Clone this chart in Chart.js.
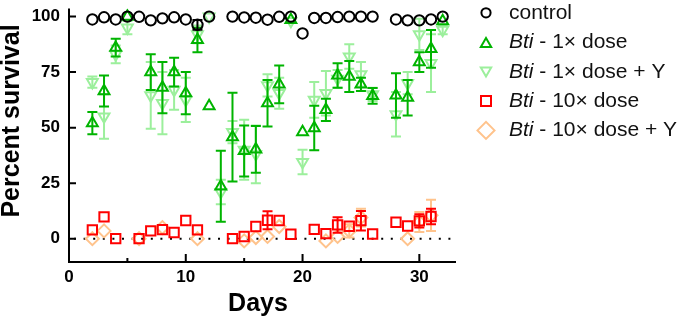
<!DOCTYPE html>
<html>
<head>
<meta charset="utf-8">
<script src="https://cdn.jsdelivr.net/npm/chart.js@4.4.1/dist/chart.umd.min.js"></script>
<style>
  body { margin: 0; background: #fff; }
</style>
</head>
<body>
<canvas id="survival" width="685" height="321"></canvas>
<script>
// percent survival per day, errors are +/- (0 = no bar drawn)
const controlDays = [2, 3, 4, 5, 6, 7, 8, 9, 10, 11, 12, 14, 15, 16, 17, 18, 19, 20, 21, 22, 23, 24, 25, 26, 28, 29, 30, 31, 32]
const controlPct  = [98.7, 99.7, 98.7, 100, 99.9, 98.3, 99.2, 99.7, 98.7, 96.3, 100, 100, 99.6, 99.5, 98.6, 99.9, 100, 92.4, 99.4, 99.4, 99.8, 100, 100, 100, 98.7, 98.3, 98.3, 98.7, 100]
const controlErr  = [0, 0, 0, 0, 0, 0, 0, 0, 0, 2.2, 0, 0, 0, 0, 0, 0, 0, 0, 0, 0, 0, 0, 0, 0, 0, 0, 0, 0, 0]

const oneDays = [2, 3, 4, 5, 7, 8, 9, 10, 11, 12, 13, 14, 15, 16, 17, 18, 19, 20, 21, 22, 23, 24, 25, 26, 28, 29, 30, 31, 32]
const onePct  = [52, 66.5, 86, 100, 75, 68, 75, 65.5, 89.5, 59.7, 23.6, 45.7, 39.5, 40.2, 61, 69.5, 98.5, 48, 49.8, 58, 73.5, 73, 69.5, 64.3, 64.5, 63.5, 79.5, 85.5, 98]
const oneErr  = [5, 7, 4, 0, 8, 11.5, 6.5, 9.5, 5.5, 0, 16, 20, 11.5, 10.5, 10.5, 8.5, 0, 0, 10, 5, 5.5, 7, 3, 3.5, 10, 8, 4.5, 8.5, 0]

const oneYDays = [2, 3, 4, 5, 7, 8, 9, 10, 11, 12, 13, 14, 15, 16, 17, 18, 19, 20, 21, 22, 23, 24, 25, 26, 28, 29, 30, 31, 32]
const oneYPct  = [70.5, 55, 83, 95, 64.5, 61, 67, 62.5, 92, 100, 21, 48, 40, 38, 69, 65.5, 98, 34.5, 62.5, 65.5, 72, 82, 74, 65, 56, 70, 92, 79, 94]
const oneYErr  = [2.5, 10, 4, 3, 15, 14, 9, 10, 4, 0, 5.5, 5, 13.5, 13, 5, 7, 0, 5.5, 8, 10, 4, 5.5, 5.5, 3, 10, 5, 7, 13, 2]

const tenDays = [2, 3, 4, 6, 7, 8, 9, 10, 11, 14, 15, 16, 17, 18, 19, 21, 22, 23, 24, 25, 26, 28, 29, 30, 31]
const tenPct  = [4, 9.8, 0, 0, 3.5, 4.1, 2.8, 8.2, 4, 0, 1, 5.5, 8.3, 8.2, 2, 4.2, 2.3, 6.2, 5.6, 8.1, 2.1, 7.4, 5.7, 8, 10]
const tenErr  = [0, 0, 0, 0, 0, 0, 0, 0, 0, 0, 0, 0, 4, 0, 0, 0, 0, 3.5, 0, 4.4, 0, 0, 0, 3, 3.5]

const tenYDays = [2, 3, 6, 8, 11, 15, 16, 17, 18, 22, 23, 24, 25, 29, 30, 31]
const tenYPct  = [0, 3.5, 0, 5, 0, -1, 0.5, 1, 5.5, -1, 1, 3.5, 9.5, 0, 7.5, 10.5]
const tenYErr  = [0, 0, 0, 0, 0, 0, 0, 0, 0, 0, 0, 3, 4, 0, 4.5, 7]

const yTicks = [0, 25, 50, 75, 100]
const xTicks = [0, 10, 20, 30]
const xMinorTicks = [5, 15, 25]

const legendItems = [
  ['', 'control'],
  ['Bti', ' - 1\u00d7 dose'],
  ['Bti', ' - 1\u00d7 dose + Y'],
  ['Bti', ' - 10\u00d7 dose'],
  ['Bti', ' - 10\u00d7 dose + Y']
]

const FONT = '"Liberation Sans", Arial, Helvetica, sans-serif'

function pts(days, vals) {
  return days.map((d, i) => ({ x: d, y: vals[i] }))
}

function series(label, days, vals, errs, color, style, radius, rotation) {
  return {
    label: label,
    data: pts(days, vals),
    errors: errs,
    borderColor: color,
    backgroundColor: 'rgba(0,0,0,0)',
    pointBorderColor: color,
    pointBackgroundColor: 'rgba(0,0,0,0)',
    pointBorderWidth: 2,
    pointStyle: style,
    pointRadius: radius,
    pointRotation: rotation || 0,
    showLine: false
  }
}

// draw a hollow marker, same shapes as the datasets use
function marker(ctx, style, x, y, r, color) {
  ctx.save()
  ctx.strokeStyle = color
  ctx.lineWidth = 2
  ctx.beginPath()
  if (style === 'circle') {
    ctx.arc(x, y, r, 0, Math.PI * 2)
  } else if (style === 'up' || style === 'down') {
    const s = style === 'up' ? 1 : -1
    const w = r * Math.sin(Math.PI / 3)
    ctx.moveTo(x, y - s * r)
    ctx.lineTo(x + w, y + s * r / 2)
    ctx.lineTo(x - w, y + s * r / 2)
    ctx.closePath()
  } else if (style === 'square') {
    ctx.rect(x - r, y - r, 2 * r, 2 * r)
  } else if (style === 'diamond') {
    ctx.moveTo(x - r, y)
    ctx.lineTo(x, y - r)
    ctx.lineTo(x + r, y)
    ctx.lineTo(x, y + r)
    ctx.closePath()
  }
  ctx.stroke()
  ctx.restore()
}

const errorBars = {
  id: 'errorBars',
  beforeDatasetDraw(chart, args) {
    const ds = chart.data.datasets[args.index]
    if (!ds.errors) return
    const ctx = chart.ctx
    const xs = chart.scales.x, ys = chart.scales.y
    ctx.save()
    ctx.strokeStyle = ds.borderColor
    ctx.lineWidth = 2
    ds.data.forEach((p, i) => {
      const e = ds.errors[i]
      if (!e) return
      const px = xs.getPixelForValue(p.x)
      const top = ys.getPixelForValue(p.y + e)
      const bot = ys.getPixelForValue(p.y - e)
      ctx.beginPath()
      ctx.moveTo(px, top); ctx.lineTo(px, bot)
      ctx.moveTo(px - 5, top); ctx.lineTo(px + 5, top)
      ctx.moveTo(px - 5, bot); ctx.lineTo(px + 5, bot)
      ctx.stroke()
    })
    ctx.restore()
  }
}

const frame = {
  id: 'frame',
  beforeDatasetsDraw(chart) {
    const { ctx, chartArea: a, scales: { y } } = chart
    const y0 = y.getPixelForValue(0)
    ctx.save()
    ctx.strokeStyle = '#000'
    ctx.lineWidth = 2
    ctx.setLineDash([2, 7.6])
    ctx.beginPath()
    ctx.moveTo(a.left + 5, y0)
    ctx.lineTo(a.right, y0)
    ctx.stroke()
    ctx.restore()
  },
  afterDraw(chart) {
    const { ctx, chartArea: a, scales: { x, y } } = chart
    ctx.save()
    ctx.strokeStyle = '#000'
    ctx.lineWidth = 2
    ctx.beginPath()
    ctx.moveTo(a.left, a.top)
    ctx.lineTo(a.left, a.bottom + 1)
    ctx.moveTo(a.left - 1, a.bottom)
    ctx.lineTo(a.right, a.bottom)
    // ticks point into the plot
    yTicks.forEach(v => {
      const py = y.getPixelForValue(v)
      ctx.moveTo(a.left, py); ctx.lineTo(a.left + 7, py)
    })
    xTicks.forEach(v => {
      const px = x.getPixelForValue(v)
      ctx.moveTo(px, a.bottom); ctx.lineTo(px, a.bottom - 8)
    })
    xMinorTicks.forEach(v => {
      const px = x.getPixelForValue(v)
      ctx.moveTo(px, a.bottom); ctx.lineTo(px, a.bottom - 4)
    })
    ctx.stroke()

    // axis titles
    ctx.fillStyle = '#000'
    ctx.font = 'bold 25px ' + FONT
    ctx.textAlign = 'center'
    ctx.textBaseline = 'middle'
    ctx.fillText('Days', 258, 304)
    ctx.save()
    ctx.translate(12, 121)
    ctx.rotate(-Math.PI / 2)
    ctx.fillText('Percent survival', 0, 0)
    ctx.restore()

    // legend
    const rows = [12.8, 42.5, 72, 101, 130.4]
    const sets = chart.data.datasets
    const shapes = [['circle', 4.6], ['up', 6], ['down', 6], ['square', 5], ['diamond', 8.5]]
    ctx.textAlign = 'left'
    rows.forEach((ry, i) => {
      const sh = shapes[i]
      let my = ry
      if (sh[0] === 'up') my = ry + sh[1] / 4
      if (sh[0] === 'down') my = ry - sh[1] / 4
      marker(ctx, sh[0], 486, my, sh[1], sets[i].borderColor)
      let tx = 509
      ctx.fillStyle = '#111'
      if (legendItems[i][0]) {
        ctx.font = 'italic 21px ' + FONT
        ctx.fillText(legendItems[i][0], tx, ry)
        tx += ctx.measureText(legendItems[i][0]).width
      }
      ctx.font = '21px ' + FONT
      ctx.fillText(legendItems[i][1], tx, ry)
    })
    ctx.restore()
  }
}

const tickFont = { family: FONT, size: 17, weight: 'bold' }

const chart = new Chart(document.getElementById('survival'), {
  type: 'scatter',
  data: {
    datasets: [
      series('control', controlDays, controlPct, controlErr, '#000000', 'circle', 5.2),
      series('Bti - 1x dose', oneDays, onePct, oneErr, '#00b400', 'triangle', 6.3),
      series('Bti - 1x dose + Y', oneYDays, oneYPct, oneYErr, '#9cef9c', 'triangle', 6.3, 180),
      series('Bti - 10x dose', tenDays, tenPct, tenErr, '#ff0000', 'rect', 6.6),
      series('Bti - 10x dose + Y', tenYDays, tenYPct, tenYErr, '#ffc38c', 'rectRot', 6.5)
    ]
  },
  options: {
    responsive: false,
    animation: false,
    devicePixelRatio: 1,
    layout: { padding: { left: 0, top: 4, right: 229, bottom: 0 } },
    plugins: { legend: { display: false }, tooltip: { enabled: false } },
    scales: {
      x: {
        type: 'linear',
        min: 0,
        max: 33.14,
        afterBuildTicks: s => { s.ticks = xTicks.map(v => ({ value: v })) },
        afterFit: s => { s.height = 59; s.paddingLeft = 0; s.paddingRight = 0 },
        grid: { display: false, drawTicks: false },
        border: { display: false },
        ticks: { font: tickFont, color: '#000', padding: 5, maxRotation: 0, autoSkip: false }
      },
      y: {
        min: -10.5,
        max: 103.6,
        afterBuildTicks: s => { s.ticks = yTicks.map(v => ({ value: v })) },
        afterFit: s => { s.width = 69; s.paddingTop = 0; s.paddingBottom = 0 },
        grid: { display: false, drawTicks: false },
        border: { display: false },
        ticks: { font: tickFont, color: '#000', padding: 9 }
      }
    }
  },
  plugins: [errorBars, frame]
})
</script>
</body>
</html>
